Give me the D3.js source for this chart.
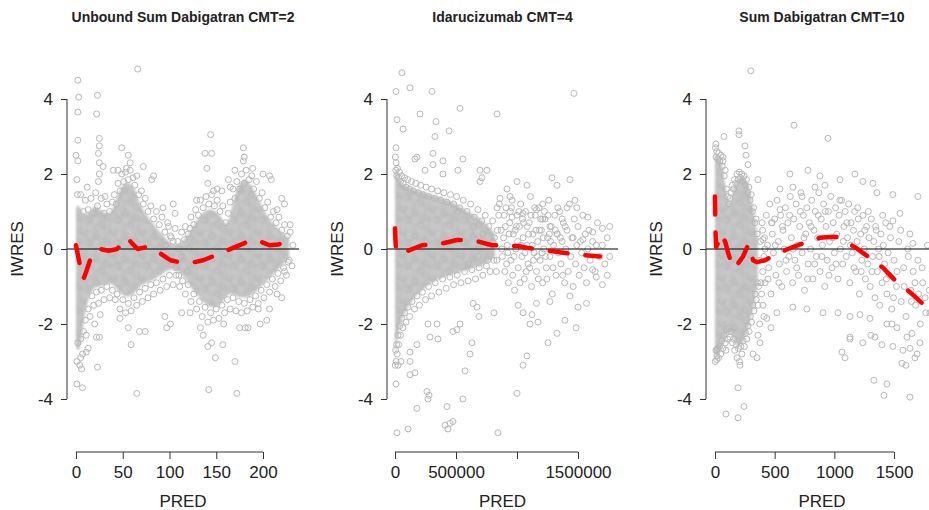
<!DOCTYPE html>
<html>
<head>
<meta charset="utf-8">
<script src="https://cdn.jsdelivr.net/npm/d3@7"></script>
<style>
  body { margin: 0; background: #fff; }
  svg { display: block; font-family: "Liberation Sans", Arial, Helvetica, sans-serif; }
</style>
</head>
<body>
<svg id="chart" width="929" height="510"></svg>
<script>
// ---- data ----
const titles = ["Unbound Sum Dabigatran CMT=2", "Idarucizumab CMT=4", "Sum Dabigatran CMT=10"];
const xLabel = "PRED";
const yLabel = "IWRES";
const yTicks = [-4, -2, 0, 2, 4];

const xlim1 = [-9.6, 238.5];
const xlim2 = [-65600, 1828000];
const xlim3 = [-75, 1868];

const xTicks1 = [0, 50, 100, 150, 200];
const xTickLabels1 = ["0", "50", "100", "150", "200"];
const xTicks2 = [0, 500000, 1000000, 1500000];
const xTickLabels2 = ["0", "500000", "", "1500000"];
const xTicks3 = [0, 500, 1000, 1500];
const xTickLabels3 = ["0", "500", "1000", "1500"];

// dense cores of the point clouds: [PRED, low IWRES, high IWRES]
const core1 = [[0,-2.6,1.1],[3,-2.8,1.2],[6,-2.4,1.0],[10,-1.6,0.9],[15,-1.2,1.0],[20,-1.0,1.2],[28,-1.0,1.0],[36,-0.9,0.9],[42,-1.0,1.2],[48,-1.2,1.7],[55,-1.3,1.8],[62,-1.2,1.7],[68,-1.0,1.2],[75,-0.9,0.9],[85,-0.8,0.6],[95,-0.6,0.3],[105,-0.5,0.05],[115,-0.7,0.2],[125,-1.1,0.6],[135,-1.4,1.0],[145,-1.6,1.1],[155,-1.5,0.9],[162,-1.2,0.5],[168,-1.2,1.3],[175,-1.3,1.8],[182,-1.3,1.9],[190,-1.2,1.6],[198,-1.0,1.2],[206,-0.8,0.8],[214,-0.6,0.6],[222,-0.4,0.4],[228,-0.2,0.3]];
const core2 = [[0,-2.9,2.2],[15000,-2.5,2.0],[40000,-2.0,1.8],[80000,-1.7,1.7],[150000,-1.3,1.6],[250000,-1.0,1.5],[350000,-0.8,1.4],[450000,-0.7,1.3],[550000,-0.6,1.1],[650000,-0.5,0.9],[750000,-0.4,0.7],[820000,-0.2,0.4]];
const core3 = [[0,-2.9,2.5],[30,-2.8,2.5],[60,-2.6,2.3],[90,-2.3,1.6],[120,-2.2,1.1],[150,-2.3,1.5],[180,-2.6,1.85],[220,-2.6,1.95],[260,-2.3,1.9],[300,-1.9,1.5],[330,-1.4,0.9],[360,-0.9,0.3]];

// individual points [PRED, IWRES]
const points1 = [
  [2,4.5],[3,4.05],[2,3.65],[2,2.9],[0,2.5],[2,2.35],[1,1.85],[1.5,1.45],[12,1.65],[23,4.1],[22,3.6],[25,2.95],[25,2.75],[24,2.55],[25,2.3],[25,2.0],[24,1.8],[29,2.2],[31,1.4],
  [66,4.8],[49,2.7],[56,2.5],[58,2.3],[54,2.15],[72,2.2],[45,2.1],[40,2.1],[83,1.95],[81,1.85],[93,1.1],[104,1.2],[106,0.95],[99,0.6],[122,0.55],[129,1.3],
  [138,2.55],[140,2.15],[144,3.05],[145,2.55],[141,1.75],[147,1.55],[151,1.6],[156,1.55],[163,1.85],[165,1.65],[170,2.1],[179,2.7],[180,2.45],[179,2.35],[189,2.15],[200,2.0],[207,1.95],[209,1.85],[220,1.35],[223,1.2],[229,0.65],[215,1.05],
  [1,-3.6],[7,-3.7],[6,-3.2],[5,-2.9],[11,-2.75],[13,-2.65],[23,-3.15],[25,-2.35],[22,-2.35],[20,-2.0],[26,-1.75],[59,-2.55],[65,-3.85],[56,-2.1],[68,-2.2],[74,-2.2],[47,-1.85],
  [97,-2.1],[101,-2.0],[95,-1.8],[113,-1.7],[122,-1.7],[141,-2.6],[145,-2.5],[149,-2.9],[142,-3.75],[157,-2.55],[136,-2.3],[133,-2.1],[158,-2.0],[170,-3.0],[172,-3.85],
  [175,-2.1],[184,-2.1],[181,-2.1],[197,-2.0],[204,-1.9],[195,-1.6],[207,-1.6],[220,-1.3],[215,-1.2],[227,-0.35],[223,-0.6],
  [5,1.45],[8,1.0],[10,1.3],[13,1.05],[16,1.35],[18,0.95],[21,1.5],[23,1.15],[27,1.35],[30,0.95],[33,1.2],[36,1.0],[39,1.25],[41,1.45],[43,1.2],[45,1.75],[47,1.55],[49,2.0],[51,1.8],[53,2.05],[56,1.85],[58,2.1],[61,1.9],[63,1.7],[65,1.95],[67,1.45],[70,1.55],[72,1.2],[74,1.35],[77,1.0],[80,1.15],[83,0.8],[86,1.0],[89,0.65],[92,0.85],[95,0.45],[98,0.7],[102,0.3],[106,0.55],[109,0.2],[113,0.45],[117,0.6],[120,0.4],[123,0.85],[126,0.65],[128,1.05],[131,0.9],[133,1.3],[136,1.1],[139,1.4],[142,1.2],[145,1.45],[148,1.15],[151,1.3],[154,1.0],[157,1.15],[160,0.7],[163,0.95],[165,1.25],[168,1.6],[170,1.35],[172,1.8],[175,1.6],[177,2.0],[180,1.75],[182,2.1],[185,1.85],[188,1.95],[190,1.6],[193,1.8],[196,1.35],[199,1.5],[202,1.1],[205,1.25],[208,0.85],[211,1.0],[214,0.7],[217,0.85],[220,0.5],[223,0.65],[226,0.35],[229,0.45],[232,0.1],
  [1,-3.0],[2,-2.5],[4,-3.1],[5,-2.4],[7,-2.8],[8,-2.2],[10,-1.9],[11,-2.3],[13,-1.6],[15,-1.8],[17,-1.25],[19,-1.5],[22,-1.15],[24,-1.45],[27,-1.1],[30,-1.35],[33,-1.0],[36,-1.3],[39,-1.1],[42,-1.35],[44,-1.2],[47,-1.6],[50,-1.35],[53,-1.7],[56,-1.45],[59,-1.65],[62,-1.3],[65,-1.5],[68,-1.15],[71,-1.4],[74,-1.05],[77,-1.3],[80,-0.95],[83,-1.2],[86,-0.9],[90,-1.1],[93,-0.8],[97,-1.0],[100,-0.7],[104,-0.95],[107,-0.7],[111,-1.0],[114,-0.85],[117,-1.2],[120,-0.95],[123,-1.4],[126,-1.2],[129,-1.6],[132,-1.4],[135,-1.8],[138,-1.55],[141,-1.95],[144,-1.7],[147,-1.9],[150,-1.6],[153,-1.85],[156,-1.5],[159,-1.7],[162,-1.35],[165,-1.6],[168,-1.3],[171,-1.65],[174,-1.4],[177,-1.7],[180,-1.45],[183,-1.65],[186,-1.35],[189,-1.55],[192,-1.25],[195,-1.45],[198,-1.1],[201,-1.3],[204,-0.95],[207,-1.15],[210,-0.8],[213,-1.0],[216,-0.65],[219,-0.85],[222,-0.5],[225,-0.7],[228,-0.3],[231,-0.45],
  [96,0.1],[100,-0.3],[104,0.2],[107,-0.5],[110,0.0],[113,-0.2],[116,0.25],[119,-0.6],[101,0.35],[110,-0.7]
];

const points2 = [
  [57000,4.7],[8000,4.2],[123000,4.3],[303000,4.2],[16000,3.45],[66000,3.2],[205000,3.6],[336000,3.4],[328000,3.0],[443000,3.15],[533000,3.75],[836000,3.6],[1467000,4.15],
  [8000,2.7],[180000,2.45],[164000,2.4],[311000,2.55],[311000,2.25],[393000,2.35],[557000,2.4],[393000,2.0],[516000,2.1],[246000,2.1],[697000,2.1],[754000,2.1],[713000,1.9],[697000,1.8],
  [918000,1.6],[1000000,1.8],[1082000,1.7],[1287000,1.9],[1328000,1.7],[1434000,1.85],[1475000,1.3],[1490000,1.1],[1580000,0.85],[1620000,0.45],[1700000,0.55],[1760000,0.6],[1650000,0.1],
  [1410000,1.1],[1370000,0.8],[1210000,1.2],[1160000,1.05],[1050000,0.95],[943000,1.4],[861000,1.35],[836000,1.1],[959000,0.85],[1210000,0.8],[1270000,0.6],[1330000,0.4],[1460000,0.3],[1540000,0.25],
  [16000,-4.9],[107000,-4.8],[8000,-3.6],[25000,-3.1],[49000,-3.0],[123000,-3.0],[123000,-3.35],[164000,-3.3],[123000,-2.75],[180000,-2.55],[180000,-4.25],[262000,-3.8],[270000,-4.0],[279000,-3.9],
  [426000,-4.2],[410000,-4.7],[451000,-4.65],[475000,-4.6],[434000,-4.8],[557000,-4.0],[574000,-3.25],[615000,-2.8],[631000,-2.5],[844000,-4.9],[1000000,-3.85],[1050000,-3.1],[1082000,-2.85],
  [1107000,-2.0],[1172000,-1.95],[1328000,-2.25],[1254000,-2.5],[1393000,-1.9],[1484000,-2.1],[1050000,-1.7],[811000,-1.7],[688000,-1.8],[672000,-1.55],[640000,-1.45],[533000,-2.0],[508000,-2.15],
  [475000,-2.2],[344000,-2.0],[270000,-2.0],[287000,-2.35],[352000,-2.4],[1010000,-1.5],[1123000,-1.75],[1160000,-1.45],[1270000,-1.4],[1434000,-1.25],[1500000,-1.55],[1570000,-1.45],[1700000,-0.95],
  [1740000,-0.7],[1650000,-0.75],[1760000,-0.2],[1620000,-0.55],
  [3000,2.45],[6000,2.1],[10000,2.3],[14000,1.95],[20000,2.15],[28000,1.9],[36000,2.05],[45000,1.8],[55000,1.95],[65000,1.75],[78000,1.9],[90000,1.65],[105000,1.85],[120000,1.6],[135000,1.8],[150000,1.55],[170000,1.75],[190000,1.5],[210000,1.7],[230000,1.45],[255000,1.65],[275000,1.4],[300000,1.6],[325000,1.35],[350000,1.55],[375000,1.3],[400000,1.5],[425000,1.25],[455000,1.45],[480000,1.2],[505000,1.4],[530000,1.1],[560000,1.3],[590000,1.0],[620000,1.2],[650000,0.85],[680000,1.05],[710000,0.75],[740000,0.9],[770000,0.6],[800000,0.75],
  [2000,-3.1],[5000,-2.7],[9000,-3.0],[13000,-2.55],[18000,-2.8],[24000,-2.3],[30000,-2.55],[38000,-2.05],[46000,-2.3],[55000,-1.85],[65000,-2.1],[78000,-1.7],[90000,-1.95],[105000,-1.55],[120000,-1.8],[140000,-1.4],[160000,-1.6],[180000,-1.25],[200000,-1.5],[225000,-1.15],[250000,-1.35],[275000,-1.0],[300000,-1.25],[330000,-0.9],[360000,-1.15],[390000,-0.8],[420000,-1.05],[450000,-0.75],[480000,-0.95],[510000,-0.7],[540000,-0.9],[570000,-0.6],[600000,-0.85],[630000,-0.55],[660000,-0.8],[690000,-0.5],[720000,-0.7],[750000,-0.45],[780000,-0.6],[810000,-0.3],
  [850000,0.9],[870000,0.5],[880000,-0.2],[890000,0.3],[900000,-0.6],[910000,1.1],[920000,0.1],[930000,-0.9],[940000,0.7],[950000,-0.3],[960000,1.3],[970000,0.4],[980000,-1.1],[990000,0.0],[1000000,0.9],[1010000,-0.5],[1020000,0.6],[1030000,1.2],[1040000,-0.2],[1050000,0.3],[1060000,-0.8],[1070000,1.0],[1080000,0.1],[1090000,-0.4],[1100000,0.7],[1110000,1.4],[1120000,-1.0],[1130000,0.4],[1140000,-0.1],[1150000,0.9],[1160000,-0.6],[1170000,0.2],[1180000,1.1],[1190000,-0.3],[1200000,0.5],[1210000,-0.9],[1220000,0.0],[1230000,0.8],[1240000,-0.5],[1250000,0.3],[1260000,1.3],[1270000,-0.2],[1280000,0.6],[1290000,-1.2],[1300000,0.1],[1310000,0.9],[1320000,-0.7],[1330000,0.4],[1340000,-0.1],[1350000,1.0],[1360000,-0.4],[1370000,0.2],[1380000,0.7],[1390000,-0.9],[1400000,0.0],[1410000,0.5],[1420000,-0.6],[1430000,1.2],[1440000,-0.2],[1450000,0.3],[1460000,-1.0],[1470000,0.8],[1480000,-0.4],[1490000,0.1],[1500000,0.6],[1510000,-0.7],[1520000,0.2],[1530000,-0.1],[1540000,0.9],[1550000,-0.5],[1560000,0.4],[1570000,-0.9],[1580000,0.0],[1590000,0.5],[1600000,-0.3],[1620000,0.2],[1640000,-0.6],[1660000,0.7],[1680000,-0.2],[1700000,0.1],[1720000,-0.4],[1740000,0.3],
  [520000,1.0],[560000,0.2],[600000,-0.4],[640000,0.6],[680000,-0.2],[720000,0.4],[760000,-0.3],[800000,0.2],[830000,-0.6],[840000,0.5],[905000,0.6],[925000,-0.1],[945000,1.0],[965000,-0.7],[985000,0.5],[1005000,0.2],[1025000,-0.9],[1045000,0.8],[1065000,-0.1],[1085000,0.6],[1105000,-0.5],[1125000,0.1],[1145000,1.1],[1165000,-0.2],[1185000,0.5],[1205000,-0.1],[1225000,1.0],[1245000,-0.8],[1265000,0.4],
  [815000,0.3],[835000,-0.3],[855000,1.2],[875000,0.0],[895000,0.9],[915000,-0.4],[935000,0.4],[955000,1.1],[975000,-0.2],[995000,0.6],[1015000,1.0],[1035000,0.1],[1055000,0.7],[1075000,-0.6],[1095000,0.4],[1115000,0.9],[1135000,-0.3],[1155000,0.5],[1175000,-0.8],[1195000,0.8],[1215000,0.3],[1235000,-0.2],[1255000,0.9],[1275000,0.2],[1295000,-0.5],[1315000,0.5],[1335000,1.1],[1355000,0.3],[1375000,-0.7],[1395000,0.6]
];

const points3 = [
  [301,4.75],[662,3.3],[946,2.95],[8,2.8],[75,3.0],[201,3.15],[201,3.05],[251,2.75],[67,2.45],[260,2.5],[276,2.25],[360,1.85],[628,2.0],[779,2.1],[879,1.95],[1047,1.85],[1172,2.0],[1239,1.8],[1323,1.75],[1356,1.5],[1490,1.45],[1700,1.4],
  [544,1.6],[653,1.65],[729,1.4],[837,1.65],[921,1.7],[544,1.05],[477,0.7],[402,0.25],[1633,0.4],[1658,0.15],[1549,0.95],[1490,0.75],
  [92,-4.4],[193,-4.5],[243,-4.2],[193,-3.7],[209,-3.1],[318,-2.8],[352,-2.9],[377,-2.5],[360,-2.3],[17,-2.85],[17,-2.7],[92,-2.7],[469,-2.1],[435,-1.85],[1064,-2.75],[1089,-2.9],[1131,-2.4],[1239,-2.5],
  [1306,-2.3],[1340,-2.35],[1331,-3.5],[1440,-3.6],[1415,-3.9],[1633,-3.95],[1398,-2.55],[1490,-2.6],[1574,-2.7],[1566,-3.05],[1600,-3.1],[1675,-2.9],[1692,-2.8],[1717,-2.5],[1608,-2.35],[1650,-2.25],
  [1524,-2.1],[1482,-2.0],[1440,-2.0],[1298,-1.85],[1214,-1.75],[1131,-1.8],[1030,-1.7],[905,-1.7],[770,-1.6],[653,-1.55],[519,-1.7],[402,-1.5],[1131,-2.35],[1633,-2.65],
  [4,2.7],[10,2.45],[16,2.6],[24,2.4],[32,2.55],[42,2.35],[50,2.5],[60,2.2],[68,2.35],[78,1.95],[86,2.1],[96,1.6],[106,1.4],[116,1.2],[126,1.35],[136,1.5],[146,1.7],[156,1.6],[164,1.85],[174,1.75],[184,2.0],[194,1.85],[204,2.05],[214,1.9],[224,2.0],[234,1.8],[244,1.95],[254,1.7],[264,1.85],[274,1.5],[284,1.65],[294,1.3],[304,1.45],[314,1.0],[324,1.1],[334,0.7],[344,0.8],[354,0.4],
  [2,-3.0],[8,-2.7],[14,-2.95],[22,-2.65],[30,-2.9],[38,-2.6],[48,-2.8],[56,-2.45],[66,-2.65],[76,-2.3],[86,-2.5],[96,-2.15],[106,-2.4],[116,-2.1],[126,-2.35],[136,-2.2],[146,-2.5],[156,-2.4],[166,-2.7],[176,-2.55],[186,-2.9],[196,-2.65],[206,-3.0],[216,-2.6],[226,-2.8],[236,-2.45],[246,-2.6],[256,-2.25],[266,-2.4],[276,-2.05],[286,-2.2],[296,-1.8],[306,-1.95],[316,-1.5],[326,-1.65],[336,-1.2],[346,-1.35],[356,-0.9],[366,-1.0],
  [360,-1.5],[370,-0.3],[380,0.2],[390,-1.2],[400,-0.6],[410,-1.8],[420,0.0],[375,-2.0],[385,-0.9],[395,0.7],
  [400,0.5],[410,-0.2],[420,-0.9],[430,0.9],[440,0.1],[450,-0.5],[460,1.2],[470,-1.2],[480,0.4],[490,-0.1],[500,0.8],[510,-0.7],[520,1.3],[530,0.2],[540,-0.4],[550,0.9],[560,-1.0],[570,0.5],[580,0.0],[590,1.1],[600,-0.6],[610,0.7],[620,-0.2],[630,1.4],[640,0.3],[650,-0.9],[660,0.8],[670,-0.3],[680,1.2],[690,0.1],[700,-0.7],[710,0.6],[720,1.5],[730,-0.1],[740,0.9],[750,-1.1],[760,0.4],[770,1.1],[780,-0.4],[790,0.7],[800,0.0],[810,1.3],[820,-0.8],[830,0.5],[840,1.0],[850,-0.2],[860,0.3],[870,1.5],[880,-0.6],[890,0.8],[900,0.1],[910,1.2],[920,-1.0],[930,0.6],[940,-0.3],[950,1.0],[960,0.2],[970,1.4],[980,-0.5],[990,0.7],[1000,-0.1],[1010,1.1],[1020,0.4],[1030,-0.8],[1040,0.9],[1050,0.0],[1060,1.3],[1070,-0.4],[1080,0.6],[1090,1.0],[1100,-0.2],[1110,0.3],[1120,1.2],[1130,-0.9],[1140,0.7],[1150,-0.1],[1160,0.5],[1170,1.0],[1180,-0.6],[1190,0.2],[1200,0.8],[1210,-1.2],[1220,0.4],[1230,-0.3],[1240,0.9],[1250,0.0],[1260,-0.8],[1270,0.6],[1280,-0.4],[1290,0.3],[1300,-1.0],[1310,0.8],[1320,-0.2],[1330,0.2],[1340,-1.3],[1350,0.5],[1360,-0.6],[1370,0.0],[1380,-1.5],[1390,0.4],[1400,-0.9],[1410,0.1],[1420,-0.4],[1430,0.7],[1440,-1.2],[1450,-0.1],[1460,-0.7],[1470,0.3],[1480,-1.6],[1500,-0.3],[1520,-1.0],[1540,0.2],[1560,-1.4],[1580,-0.5],[1600,-1.8],[1620,-0.2],[1640,-1.1],[1660,-0.6],[1680,-1.5],[1700,-0.3],[1720,-2.0],[1740,-0.9],[1760,-1.3],[1780,0.1],[1800,-1.7],[1820,-0.6],[1840,-2.2],[1860,-1.0],
  [415,0.3],[445,-0.8],[475,0.7],[505,0.1],[535,-0.9],[565,0.6],[595,-0.3],[625,0.9],[655,0.0],[685,-0.5],[715,1.0],[745,0.3],[775,-0.8],[805,0.6],[835,-0.4],[865,0.9],[895,-0.2],[925,1.0],[955,-0.7],[985,0.3],[1015,-0.4],[1045,1.3],[1075,0.2],[1105,0.7],[1135,0.1],[1165,-0.5],[1195,1.1],[1225,-0.6],[1255,0.5],[1285,1.0],[1315,-0.6],[1345,0.6],[1375,-0.2],[1405,0.9],[1435,-0.8],[1465,0.6],[1495,-1.3],[1525,-0.6],[1555,0.5],[1585,-1.0],[1615,0.0],[1645,-1.4],[1675,-0.9],[1705,-1.2],[1735,-0.5],[1765,-1.7],[1795,-1.1],[1825,-1.4],[1855,-0.3]
];

// lowess smooth lines [PRED, IWRES]
const smooth1 = [[0,0.1],[4,-0.4],[8,-0.8],[11,-0.6],[15,-0.3],[20,-0.05],[26,0.0],[35,-0.05],[44,0.0],[50,0.15],[55,0.3],[60,0.15],[66,0.0],[75,0.05],[84,0.0],[92,-0.15],[101,-0.3],[114,-0.37],[125,-0.36],[136,-0.3],[151,-0.15],[170,0.05],[188,0.24],[197,0.2],[207,0.1],[216,0.12],[226,0.18],[232,0.18]];
const smooth2 = [[0,0.55],[4000,0.2],[10000,-0.05],[40000,-0.12],[82000,-0.08],[221000,0.1],[352000,0.12],[508000,0.24],[639000,0.24],[795000,0.1],[1010000,0.08],[1087000,0.03],[1230000,-0.03],[1380000,-0.1],[1500000,-0.15],[1680000,-0.2]];
const smooth3 = [[0,1.4],[2,0.9],[5,0.45],[10,0.05],[60,0.4],[90,0.15],[110,-0.1],[150,-0.5],[190,-0.4],[235,-0.2],[280,0.12],[320,-0.3],[350,-0.35],[420,-0.3],[477,-0.2],[611,0.0],[737,0.15],[880,0.3],[960,0.32],[1022,0.32],[1100,0.18],[1172,0.05],[1281,-0.2],[1407,-0.5],[1507,-0.83],[1633,-1.15],[1733,-1.44],[1868,-1.8]];

// ---- layout ----
const panels = [
  { title: titles[0], xlim: xlim1, ticks: xTicks1, labels: xTickLabels1, core: core1, pts: points1, smooth: smooth1, left: 67, right: 299 },
  { title: titles[1], xlim: xlim2, ticks: xTicks2, labels: xTickLabels2, core: core2, pts: points2, smooth: smooth2, left: 387, right: 618 },
  { title: titles[2], xlim: xlim3, ticks: xTicks3, labels: xTickLabels3, core: core3, pts: points3, smooth: smooth3, left: 706, right: 938 }
];

const svg = d3.select("#chart");
const y = d3.scaleLinear().domain([-4, 4]).range([399, 99]);
const axisY = 452;
const plotTop = 42, plotBottom = 456;

// texture for the overplotted cores (many overlapping open circles)
const defs = svg.append("defs");
const pat = defs.append("pattern").attr("id", "overplot")
  .attr("patternUnits", "userSpaceOnUse").attr("width", 29).attr("height", 23);
pat.append("rect").attr("width", 29).attr("height", 23).attr("fill", "#c2c2c2");
[[4,5],[14,3],[23,8],[9,13],[19,16],[27,19],[3,20],[13,21]].forEach(([cx, cy]) =>
  pat.append("circle").attr("cx", cx).attr("cy", cy).attr("r", 2.2)
    .attr("fill", "none").attr("stroke", "#d0d0d0").attr("stroke-width", 1));
[[9,6],[20,11],[2,13],[26,2],[15,18]].forEach(([cx, cy]) =>
  pat.append("circle").attr("cx", cx).attr("cy", cy).attr("r", 3)
    .attr("fill", "none").attr("stroke", "#b4b4b4").attr("stroke-width", 1));
defs.append("filter").attr("id", "soft")
  .append("feGaussianBlur").attr("stdDeviation", 0.8);

panels.forEach((p, i) => {
  const x = d3.scaleLinear().domain(p.xlim).range([p.left, p.right]);
  const g = svg.append("g");

  const clipId = "clip" + i;
  defs.append("clipPath").attr("id", clipId)
    .append("rect")
    .attr("x", p.left).attr("y", plotTop)
    .attr("width", p.right - p.left).attr("height", plotBottom - plotTop);

  const plot = g.append("g").attr("clip-path", `url(#${clipId})`);

  // dense core of the cloud
  plot.append("path")
    .datum(p.core)
    .attr("d", d3.area()
      .x(d => x(d[0]))
      .y0(d => y(d[1]))
      .y1(d => y(d[2]))
      .curve(d3.curveBasis))
    .attr("fill", "url(#overplot)")
    .attr("filter", "url(#soft)");

  plot.append("g")
    .selectAll("circle")
    .data(p.pts)
    .join("circle")
    .attr("cx", d => x(d[0]))
    .attr("cy", d => y(d[1]))
    .attr("r", 3)
    .attr("fill", "none")
    .attr("stroke", "#b8b8b8")
    .attr("stroke-width", 1);

  // reference line at 0
  plot.append("line")
    .attr("x1", p.left).attr("x2", p.right)
    .attr("y1", y(0)).attr("y2", y(0))
    .attr("stroke", "#000").attr("stroke-width", 1);

  // smooth
  plot.append("path")
    .datum(p.smooth)
    .attr("d", d3.line().x(d => x(d[0])).y(d => y(d[1])))
    .attr("fill", "none")
    .attr("stroke", "#ff0000")
    .attr("stroke-width", 4.5)
    .attr("stroke-dasharray", "18,18")
    .attr("stroke-linecap", "round")
    .attr("stroke-linejoin", "round");

  // x axis
  const xa = g.append("g")
    .attr("transform", `translate(0,${axisY})`)
    .call(d3.axisBottom(x).tickValues(p.ticks).tickFormat((d, j) => p.labels[j]).tickSize(7).tickPadding(7));
  xa.select(".domain").remove();
  xa.append("line")
    .attr("x1", x(p.ticks[0])).attr("x2", x(p.ticks[p.ticks.length - 1]))
    .attr("stroke", "#333");
  xa.selectAll(".tick line").attr("stroke", "#333");
  xa.selectAll("text").attr("font-size", 17).attr("fill", "#222").attr("font-family", "Liberation Sans, Arial, sans-serif");

  // y axis
  const ya = g.append("g")
    .attr("transform", `translate(${p.left},0)`)
    .call(d3.axisLeft(y).tickValues(yTicks).tickFormat(d3.format("d")).tickSize(6).tickPadding(8));
  ya.select(".domain").remove();
  ya.append("line")
    .attr("y1", y(yTicks[0])).attr("y2", y(yTicks[yTicks.length - 1]))
    .attr("stroke", "#333");
  ya.selectAll(".tick line").attr("stroke", "#333");
  ya.selectAll("text").attr("font-size", 17).attr("fill", "#222").attr("font-family", "Liberation Sans, Arial, sans-serif")
    .text(d => d < 0 ? "-" + Math.abs(d) : d);

  const cx = (p.left + p.right) / 2;
  g.append("text")
    .attr("x", cx).attr("y", 22)
    .attr("text-anchor", "middle")
    .attr("font-size", 14).attr("font-weight", "bold").attr("fill", "#222")
    .text(p.title);

  g.append("text")
    .attr("x", cx).attr("y", 507)
    .attr("text-anchor", "middle")
    .attr("font-size", 17).attr("fill", "#222")
    .text(xLabel);

  g.append("text")
    .attr("transform", `translate(${p.left - 44},${y(0)}) rotate(-90)`)
    .attr("text-anchor", "middle")
    .attr("font-size", 17).attr("fill", "#222")
    .text(yLabel);
});
</script>
</body>
</html>
